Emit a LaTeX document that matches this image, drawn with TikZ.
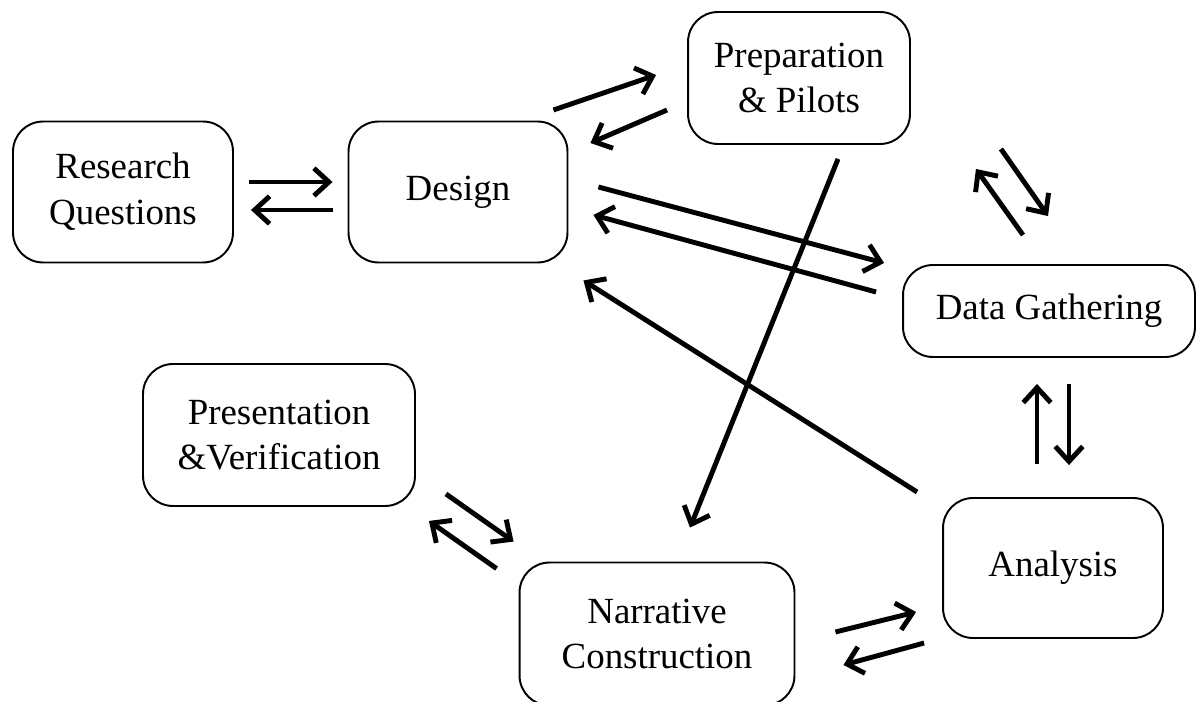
\documentclass[tikz,border=0pt]{standalone}
\usepackage{fontspec}
\setmainfont{Liberation Serif}
\usetikzlibrary{arrows.meta}

\tikzset{
  stage/.style={draw, rectangle, rounded corners=0.6cm, line width=1.1pt,
    align=center, font=\fontsize{21}{26}\selectfont},
  arr/.style={line width=2.8pt, -{Straight Barb[length=0.3cm, width=0.55cm]}}
}

\begin{document}
\begin{tikzpicture}[x=0.02cm, y=-0.02cm]
\useasboundingbox (0,0) rectangle (1202,702);
\node (rq) [stage, minimum width=4.4cm, minimum height=2.82cm] at (123,192) {Research\\Questions};
\node (design) [stage, minimum width=4.38cm, minimum height=2.82cm] at (458,192) {Design};
\node (prep) [stage, minimum width=4.44cm, minimum height=2.64cm] at (799,78) {Preparation\\\& Pilots};
\node (data) [stage, minimum width=5.84cm, minimum height=1.84cm] at (1049,311) {Data Gathering};
\node (pres) [stage, minimum width=5.44cm, minimum height=2.84cm] at (279,435) {Presentation\\\&Verification};
\node (narr) [stage, minimum width=5.5cm, minimum height=2.86cm] at (657,634) {Narrative\\Construction};
\node (anal) [stage, minimum width=4.4cm, minimum height=2.8cm] at (1053,568) {Analysis};

% research questions <-> design
\draw [arr] ([shift={(15,-10)}]rq.east) -- ([shift={(-15,-10)}]design.west);
\draw [arr] ([shift={(-15,18)}]design.west) -- ([shift={(17,18)}]rq.east);
% design <-> preparation
\draw [arr] ([shift={(-15,-82)}]design.east) -- ([shift={(-31,-3)}]prep.west);
\draw [arr] ([shift={(-20,32)}]prep.west) -- ([shift={(22,-49)}]design.east);
% preparation <-> data gathering
\draw [arr] ([shift={(90,4)}]prep.south east) -- ([shift={(-1,-48)}]data.north);
\draw [arr] ([shift={(-26,-29)}]data.north) -- ([shift={(65,24)}]prep.south east);
% design <-> data gathering
\draw [arr] ([shift={(30,-5)}]design.east) -- ([shift={(-18,-48)}]data.west);
\draw [arr] ([shift={(-26,-19)}]data.west) -- ([shift={(25,23)}]design.east);
% analysis -> design, preparation -> narrative
\draw [arr] ([shift={(-25,-76)}]anal.west) -- ([shift={(15,17)}]design.south east);
\draw [arr] ([shift={(39,14)}]prep.south) -- ([shift={(33,-34)}]narr.north);
% data gathering <-> analysis
\draw [arr] ([shift={(-16,-33)}]anal.north) -- ([shift={(-12,26)}]data.south);
\draw [arr] ([shift={(20,26)}]data.south) -- ([shift={(16,-32)}]anal.north);
% presentation <-> narrative
\draw [arr] ([shift={(30,-13)}]pres.south east) -- ([shift={(-5,-20)}]narr.north west);
\draw [arr] ([shift={(-22,7)}]narr.north west) -- ([shift={(13,14)}]pres.south east);
% narrative <-> analysis
\draw [arr] ([shift={(40,-2)}]narr.east) -- ([shift={(-26,44)}]anal.west);
\draw [arr] ([shift={(-18,75)}]anal.west) -- ([shift={(48,31)}]narr.east);
\end{tikzpicture}
\end{document}
